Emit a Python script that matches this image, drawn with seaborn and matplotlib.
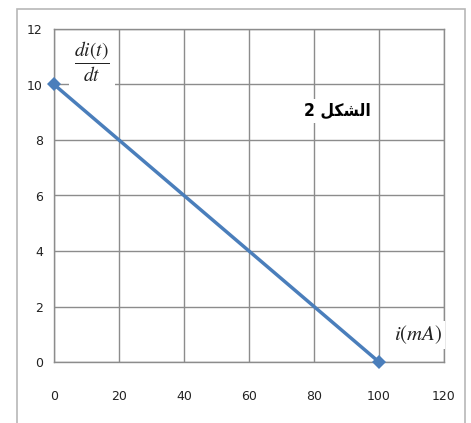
import matplotlib
matplotlib.use("Agg")
import matplotlib.pyplot as plt
import seaborn as sns
import pandas as pd
from matplotlib.patches import Rectangle

# data
current_mA = [0, 100]
di_dt = [10, 0]
x_ticks = [0, 20, 40, 60, 80, 100, 120]
y_ticks = [0, 2, 4, 6, 8, 10, 12]
# "الشكل 2" pre-shaped (presentation forms, visual order)
fig_label = "2 " + "\uFEDE\uFEDC\uFEB8\uFEDF\uFE8D"

sns.set_theme(style="white")
plt.rcParams['font.family'] = ['Liberation Sans Narrow', 'DejaVu Sans']
plt.rcParams['mathtext.fontset'] = 'stix'

df = pd.DataFrame({"i": current_mA, "d": di_dt})

fig = plt.figure(figsize=(4.71, 4.23), dpi=100)
ax = fig.add_axes([54/471, 1-362/423, 390/471, 333/423])

# outer chart border
fig.patches.append(Rectangle((17/471, -0.1), 448/471, 1.1 - 9/423,
                             transform=fig.transFigure, fill=False,
                             edgecolor='#b8b8b8', linewidth=1.2))

sns.lineplot(data=df, x="i", y="d", ax=ax, color='#4a7ebb', linewidth=2.5,
             marker='D', markersize=7.5, markeredgewidth=0, zorder=3, clip_on=False)

ax.set_xlim(0, 120)
ax.set_ylim(0, 12)
ax.set_xticks(x_ticks)
ax.set_yticks(y_ticks)
ax.grid(True, color='#8c8c8c', linewidth=1.0)
ax.set_axisbelow(True)
for s in ax.spines.values():
    s.set_color('#8c8c8c')
    s.set_linewidth(1.0)
ax.tick_params(axis='both', length=0, labelsize=9, colors='#222222')
ax.tick_params(axis='x', pad=20)
ax.tick_params(axis='y', pad=8)
ax.set_xlabel('')
ax.set_ylabel('')

ax.text(11.7, 10.8, r'$\dfrac{di(t)}{dt}$', fontsize=14, ha='center', va='center',
        color='#222222', zorder=4,
        bbox=dict(facecolor='white', edgecolor='none', pad=4))
ax.text(112, 0.97, r'$i(mA)$', fontsize=15, ha='center', va='center',
        color='#222222', zorder=4, clip_on=False,
        bbox=dict(facecolor='white', edgecolor='none', pad=2))
ax.text(87.1, 9.05, fig_label, fontsize=12.5, fontweight='bold', fontstretch='condensed',
        ha='center', va='center',
        family=['DejaVu Sans'], color='black', zorder=4,
        bbox=dict(facecolor='white', edgecolor='none', pad=2))

fig.savefig('out.png', dpi=100)
